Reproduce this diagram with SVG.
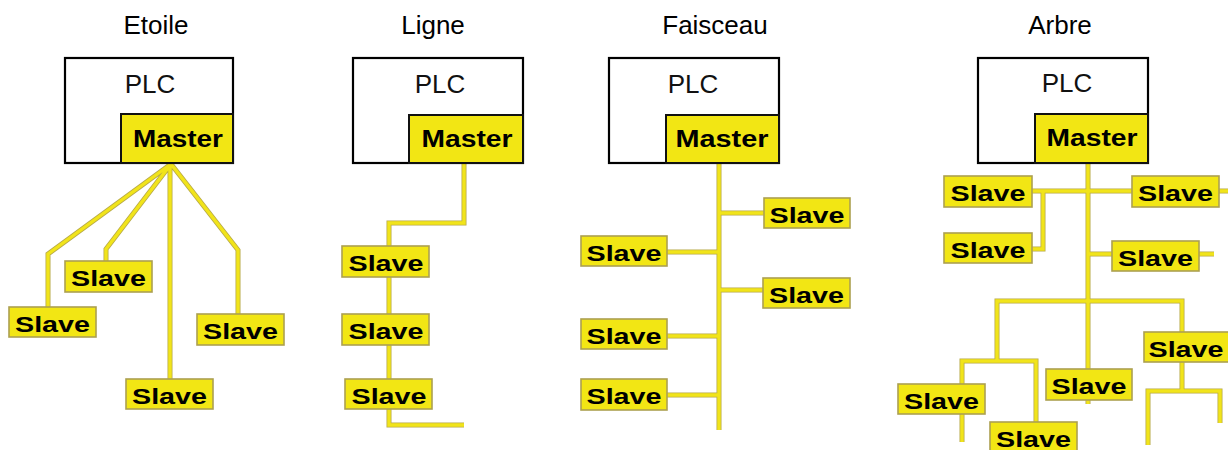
<svg xmlns="http://www.w3.org/2000/svg" xmlns:xlink="http://www.w3.org/1999/xlink" width="1228" height="450" viewBox="0 0 1228 450">
<style>
.bg{fill:#ffffff}
.title{font-family:"Liberation Sans",Arial,sans-serif;font-size:26px;fill:#000;text-anchor:middle}
.plc{fill:#ffffff;stroke:#000;stroke-width:2.2}
.plct{font-family:"Liberation Sans",Arial,sans-serif;font-size:26px;fill:#111;text-anchor:middle}
.master{fill:#f2e614;stroke:#111;stroke-width:2}
.mt{font-family:"Liberation Sans",Arial,sans-serif;font-size:23px;font-weight:bold;fill:#000;text-anchor:middle}
.slave{fill:#f2e614;stroke:#aca050;stroke-width:1.6}
.st{font-family:"Liberation Sans",Arial,sans-serif;font-size:22px;font-weight:bold;fill:#000;text-anchor:middle}
.edge{fill:none;stroke:#b8aa48;stroke-width:5;stroke-linejoin:miter}
.core{fill:none;stroke:#f1e41a;stroke-width:3.4;stroke-linejoin:miter}
</style>
<defs>
<g id="pipes">
<path d="M171,164 L48,254 L48,307 M171,164 L106,249 L106,261 M170,164 L170,379 M171,164 L238,250 L238,314"/>
<path d="M464,163 L464,223 L389,223 L389,246 M389,277 L389,314 M389,345 L389,379 M389,409 L389,425 L464,425"/>
<path d="M719,163 L719,430 M719,213 L764,213 M667,252 L719,252 M719,290 L763,290 M667,336 L719,336 M667,395 L719,395"/>
<path d="M1088,163 L1088,369 M1088,400 L1088,404 M1032,191 L1132,191 M1219,191 L1228,191 M1043,191 L1043,249 L1032,249 M1088,254 L1112,254 M1199,254 L1214,254 M997,361 L997,301 L1182,301 L1182,332 M962,384 L962,361 L1036,361 L1036,422 M962,414 L962,442 M1182,362 L1182,391 M1148,445 L1148,391 L1220,391 L1220,423"/>
</g>
</defs>
<rect class="bg" x="0" y="0" width="1228" height="450"/>
<g id="titles">
<text class="title" x="156" y="34">Etoile</text>
<text class="title" x="433" y="34">Ligne</text>
<text class="title" x="715" y="34">Faisceau</text>
<text class="title" x="1060" y="34">Arbre</text>
</g>
<g id="connectors">
<use xlink:href="#pipes" class="edge"/>
<use xlink:href="#pipes" class="core"/>
</g>
<g id="plc-etoile"><rect class="plc" x="65" y="58" width="168" height="105"/><text class="plct" x="150" y="93">PLC</text></g>
<g id="master-etoile"><rect class="master" x="121" y="114" width="112" height="49"/><text class="mt" x="178" y="147" textLength="90" lengthAdjust="spacingAndGlyphs">Master</text></g>
<g id="plc-ligne"><rect class="plc" x="353" y="58" width="170" height="105"/><text class="plct" x="440" y="93">PLC</text></g>
<g id="master-ligne"><rect class="master" x="409" y="115" width="114" height="48"/><text class="mt" x="467" y="147" textLength="91" lengthAdjust="spacingAndGlyphs">Master</text></g>
<g id="plc-faisceau"><rect class="plc" x="609" y="58" width="170" height="105"/><text class="plct" x="693" y="93">PLC</text></g>
<g id="master-faisceau"><rect class="master" x="666" y="115" width="113" height="48"/><text class="mt" x="722" y="147" textLength="93" lengthAdjust="spacingAndGlyphs">Master</text></g>
<g id="plc-arbre"><rect class="plc" x="978" y="58" width="170" height="105"/><text class="plct" x="1067" y="92">PLC</text></g>
<g id="master-arbre"><rect class="master" x="1035" y="114" width="113" height="49"/><text class="mt" x="1092" y="146" textLength="91" lengthAdjust="spacingAndGlyphs">Master</text></g>
<g id="slaves-etoile">
<g id="se1"><rect class="slave" x="65" y="261" width="87" height="31"/><text class="st" x="108.5" y="286" textLength="75" lengthAdjust="spacingAndGlyphs">Slave</text></g>
<g id="se2"><rect class="slave" x="9" y="307" width="87" height="30"/><text class="st" x="52.5" y="332" textLength="75" lengthAdjust="spacingAndGlyphs">Slave</text></g>
<g id="se3"><rect class="slave" x="197" y="314" width="87" height="31"/><text class="st" x="240.5" y="339" textLength="75" lengthAdjust="spacingAndGlyphs">Slave</text></g>
<g id="se4"><rect class="slave" x="126" y="379" width="87" height="30"/><text class="st" x="169.5" y="404" textLength="75" lengthAdjust="spacingAndGlyphs">Slave</text></g>
</g>
<g id="slaves-ligne">
<g id="sl1"><rect class="slave" x="342" y="246" width="87" height="31"/><text class="st" x="386" y="271" textLength="75" lengthAdjust="spacingAndGlyphs">Slave</text></g>
<g id="sl2"><rect class="slave" x="342" y="314" width="87" height="31"/><text class="st" x="386" y="339" textLength="75" lengthAdjust="spacingAndGlyphs">Slave</text></g>
<g id="sl3"><rect class="slave" x="345" y="379" width="87" height="30"/><text class="st" x="389" y="404" textLength="75" lengthAdjust="spacingAndGlyphs">Slave</text></g>
</g>
<g id="slaves-faisceau">
<g id="sf1"><rect class="slave" x="764" y="198" width="86" height="30"/><text class="st" x="807" y="223" textLength="75" lengthAdjust="spacingAndGlyphs">Slave</text></g>
<g id="sf2"><rect class="slave" x="581" y="236" width="86" height="30"/><text class="st" x="624" y="261" textLength="75" lengthAdjust="spacingAndGlyphs">Slave</text></g>
<g id="sf3"><rect class="slave" x="763" y="278" width="87" height="30"/><text class="st" x="806.5" y="303" textLength="75" lengthAdjust="spacingAndGlyphs">Slave</text></g>
<g id="sf4"><rect class="slave" x="581" y="319" width="86" height="30"/><text class="st" x="624" y="344" textLength="75" lengthAdjust="spacingAndGlyphs">Slave</text></g>
<g id="sf5"><rect class="slave" x="581" y="379" width="86" height="31"/><text class="st" x="624" y="404" textLength="75" lengthAdjust="spacingAndGlyphs">Slave</text></g>
</g>
<g id="slaves-arbre">
<g id="sa1"><rect class="slave" x="944" y="176" width="88" height="31"/><text class="st" x="988" y="201" textLength="75" lengthAdjust="spacingAndGlyphs">Slave</text></g>
<g id="sa2"><rect class="slave" x="1132" y="176" width="87" height="31"/><text class="st" x="1175.5" y="201" textLength="75" lengthAdjust="spacingAndGlyphs">Slave</text></g>
<g id="sa3"><rect class="slave" x="944" y="233" width="88" height="30"/><text class="st" x="988" y="258" textLength="75" lengthAdjust="spacingAndGlyphs">Slave</text></g>
<g id="sa4"><rect class="slave" x="1112" y="241" width="87" height="30"/><text class="st" x="1155.5" y="266" textLength="75" lengthAdjust="spacingAndGlyphs">Slave</text></g>
<g id="sa5"><rect class="slave" x="1144" y="332" width="88" height="30"/><text class="st" x="1186" y="357" textLength="75" lengthAdjust="spacingAndGlyphs">Slave</text></g>
<g id="sa6"><rect class="slave" x="1046" y="369" width="86" height="31"/><text class="st" x="1089" y="394" textLength="75" lengthAdjust="spacingAndGlyphs">Slave</text></g>
<g id="sa7"><rect class="slave" x="898" y="384" width="87" height="30"/><text class="st" x="941.5" y="409" textLength="75" lengthAdjust="spacingAndGlyphs">Slave</text></g>
<g id="sa8"><rect class="slave" x="990" y="422" width="87" height="31"/><text class="st" x="1033.5" y="447" textLength="75" lengthAdjust="spacingAndGlyphs">Slave</text></g>
</g>
</svg>
